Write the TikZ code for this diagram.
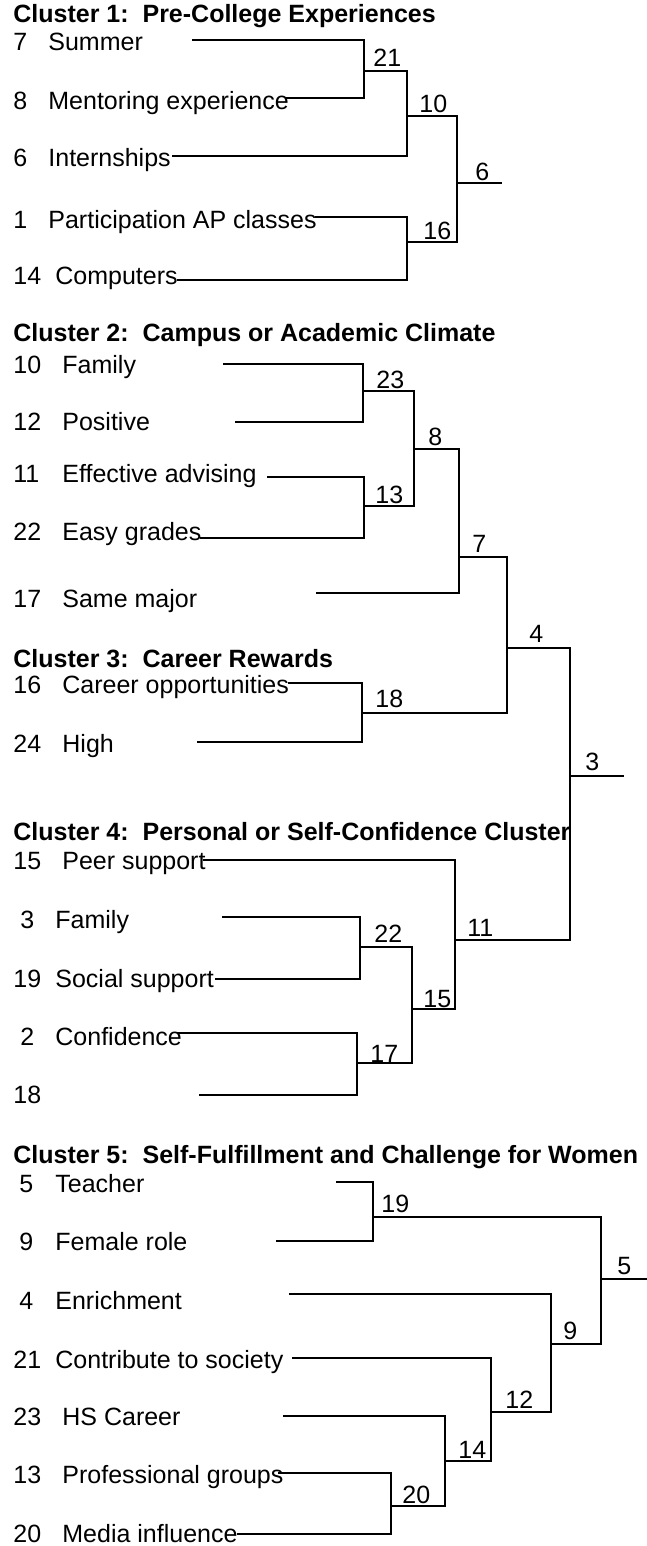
\documentclass[tikz,border=0pt]{standalone}
\usepackage{fontspec}
\setmainfont{Liberation Sans}
\newcommand\lfsz{\fontsize{12.5pt}{15pt}\selectfont}
\tikzset{
  lbl/.style={anchor=base west, inner sep=0pt, font=\lfsz},
  ttl/.style={anchor=base west, inner sep=0pt, font=\lfsz\bfseries},
  link/.style={line width=1pt, line join=miter},
}
\begin{document}
\begin{tikzpicture}[x=0.5pt,y=-0.5pt]
\useasboundingbox (0,0) rectangle (647,1546);

% ---------- titles ----------
\node[ttl] (t1) at (13,23)   {Cluster 1:\ \ Pre-College Experiences};
\node[ttl] (t2) at (13,341)  {Cluster 2:\ \ Campus or Academic Climate};
\node[ttl] (t3) at (13,667)  {Cluster 3:\ \ Career Rewards};
\node[ttl] (t4) at (13,840)  {Cluster 4:\ \ Personal or Self-Confidence Cluster};
\node[ttl] (t5) at (13,1163) {Cluster 5:\ \ Self-Fulfillment and Challenge for Women};

% ---------- cluster 1 leaves ----------
\node[lbl] (n7)  at (13,51)  {7};  \node[lbl] (w7)  at (48,51)  {Summer};
\node[lbl] (n8)  at (13,110) {8};  \node[lbl] (w8)  at (48,110) {Mentoring experience};
\node[lbl] (n6)  at (13,167) {6};  \node[lbl] (w6)  at (48,167) {Internships};
\node[lbl] (n1)  at (13,228) {1};  \node[lbl] (w1)  at (48,228) {Participation AP classes};
\node[lbl] (n14) at (13,285) {14}; \node[lbl] (w14) at (55,285) {Computers};
\coordinate (e7)  at (192,40);
\coordinate (e8)  at (285,98);
\coordinate (e6)  at (172,156);
\coordinate (e1)  at (315,217);
\coordinate (e14) at (177,280);

% ---------- cluster 2 leaves ----------
\node[lbl] (n10) at (13,373) {10}; \node[lbl] (w10) at (62,373) {Family};
\node[lbl] (n12) at (13,430) {12}; \node[lbl] (w12) at (62,430) {Positive};
\node[lbl] (n11) at (13,482) {11}; \node[lbl] (w11) at (62,482) {Effective advising};
\node[lbl] (n22) at (13,540) {22}; \node[lbl] (w22) at (62,540) {Easy grades};
\node[lbl] (n17) at (13,607) {17}; \node[lbl] (w17) at (62,607) {Same major};
\coordinate (e10) at (223,364);
\coordinate (e12) at (235,422);
\coordinate (e11) at (267,477);
\coordinate (e22) at (200,538);
\coordinate (e17) at (316,593);

% ---------- cluster 3 leaves ----------
\node[lbl] (n16) at (13,693) {16}; \node[lbl] (w16) at (62,693) {Career opportunities};
\node[lbl] (n24) at (13,752) {24}; \node[lbl] (w24) at (62,752) {High};
\coordinate (e16) at (288,683);
\coordinate (e24) at (197,742);

% ---------- cluster 4 leaves ----------
\node[lbl] (n15) at (13,869)  {15}; \node[lbl] (w15) at (62,869)  {Peer support};
\node[lbl] (n3)  at (20,928)  {3};  \node[lbl] (w3)  at (55,928)  {Family};
\node[lbl] (n19) at (13,987)  {19}; \node[lbl] (w19) at (55,987)  {Social support};
\node[lbl] (n2)  at (20,1045) {2};  \node[lbl] (w2)  at (55,1045) {Confidence};
\node[lbl] (n18) at (13,1103) {18};
\coordinate (e15) at (203,860);
\coordinate (e3)  at (222,917);
\coordinate (e19) at (215,979);
\coordinate (e2)  at (177,1033);
\coordinate (e18) at (199,1095);

% ---------- cluster 5 leaves ----------
\node[lbl] (n5)  at (19,1192) {5};  \node[lbl] (w5)  at (55,1192) {Teacher};
\node[lbl] (n9)  at (19,1250) {9};  \node[lbl] (w9)  at (55,1250) {Female role};
\node[lbl] (n4)  at (19,1309) {4};  \node[lbl] (w4)  at (55,1309) {Enrichment};
\node[lbl] (n21) at (13,1368) {21}; \node[lbl] (w21) at (55,1368) {Contribute to society};
\node[lbl] (n23) at (13,1425) {23}; \node[lbl] (w23) at (62,1425) {HS Career};
\node[lbl] (n13) at (13,1483) {13}; \node[lbl] (w13) at (62,1483) {Professional groups};
\node[lbl] (n20) at (13,1542) {20}; \node[lbl] (w20) at (62,1542) {Media influence};
\coordinate (e5)  at (336,1182);
\coordinate (e9)  at (276,1241);
\coordinate (e4)  at (289,1294);
\coordinate (e21) at (292,1358);
\coordinate (e23) at (283,1416);
\coordinate (e13) at (278,1473);
\coordinate (e20) at (237,1534);

% ---------- merge points ----------
\coordinate (m21) at (364,71);
\coordinate (m10) at (407,116);
\coordinate (m16) at (407,242);
\coordinate (m6)  at (457,183);
\coordinate (o6)  at (502,183);

\coordinate (m23) at (363,391);
\coordinate (m13) at (364,506);
\coordinate (m8)  at (414,449);
\coordinate (m7)  at (459,557);
\coordinate (m18) at (362,713);
\coordinate (m4)  at (507,648);
\coordinate (m22) at (360,947);
\coordinate (m17) at (357,1063);
\coordinate (m15) at (412,1009);
\coordinate (m11) at (455,940);
\coordinate (m3)  at (570,776);
\coordinate (o3)  at (624,776);

\coordinate (m19) at (373,1217);
\coordinate (m20) at (391,1506);
\coordinate (m14) at (445,1461);
\coordinate (m12) at (491,1412);
\coordinate (m9)  at (551,1344);
\coordinate (m5)  at (601,1279);
\coordinate (o5)  at (647,1279);

% ---------- connectors ----------
\draw[link] (e7) -| (m21);  \draw[link] (e8) -| (m21);
\draw[link] (m21) -| (m10); \draw[link] (e6) -| (m10);
\draw[link] (e1) -| (m16);  \draw[link] (e14) -| (m16);
\draw[link] (m10) -| (m6);  \draw[link] (m16) -| (m6);
\draw[link] (m6) -- (o6);

\draw[link] (e10) -| (m23); \draw[link] (e12) -| (m23);
\draw[link] (e11) -| (m13); \draw[link] (e22) -| (m13);
\draw[link] (m23) -| (m8);  \draw[link] (m13) -| (m8);
\draw[link] (m8) -| (m7);   \draw[link] (e17) -| (m7);
\draw[link] (e16) -| (m18); \draw[link] (e24) -| (m18);
\draw[link] (m7) -| (m4);   \draw[link] (m18) -| (m4);
\draw[link] (e3) -| (m22);  \draw[link] (e19) -| (m22);
\draw[link] (e2) -| (m17);  \draw[link] (e18) -| (m17);
\draw[link] (m22) -| (m15); \draw[link] (m17) -| (m15);
\draw[link] (e15) -| (m11); \draw[link] (m15) -| (m11);
\draw[link] (m4) -| (m3);   \draw[link] (m11) -| (m3);
\draw[link] (m3) -- (o3);

\draw[link] (e5) -| (m19);  \draw[link] (e9) -| (m19);
\draw[link] (e13) -| (m20); \draw[link] (e20) -| (m20);
\draw[link] (e23) -| (m14); \draw[link] (m20) -| (m14);
\draw[link] (e21) -| (m12); \draw[link] (m14) -| (m12);
\draw[link] (e4) -| (m9);   \draw[link] (m12) -| (m9);
\draw[link] (m19) -| (m5);  \draw[link] (m9) -| (m5);
\draw[link] (m5) -- (o5);

% ---------- merge labels ----------
\node[lbl] (l21) at (373,67)   {21};
\node[lbl] (l10) at (419,113)  {10};
\node[lbl] (l16) at (423,240)  {16};
\node[lbl] (l6)  at (475,181)  {6};
\node[lbl] (l23) at (376,388)  {23};
\node[lbl] (l13) at (375,503)  {13};
\node[lbl] (l8)  at (428,445)  {8};
\node[lbl] (l7)  at (472,552)  {7};
\node[lbl] (l18) at (375,707)  {18};
\node[lbl] (l4)  at (529,642)  {4};
\node[lbl] (l3)  at (585,770)  {3};
\node[lbl] (l22) at (374,942)  {22};
\node[lbl] (l17) at (370,1062) {17};
\node[lbl] (l15) at (423,1007) {15};
\node[lbl] (l11) at (467,936)  {11};
\node[lbl] (l19) at (381,1212) {19};
\node[lbl] (l20) at (402,1503) {20};
\node[lbl] (l14) at (458,1458) {14};
\node[lbl] (l12) at (505,1408) {12};
\node[lbl] (l9)  at (563,1339) {9};
\node[lbl] (l5)  at (617,1274) {5};
\end{tikzpicture}
\end{document}
